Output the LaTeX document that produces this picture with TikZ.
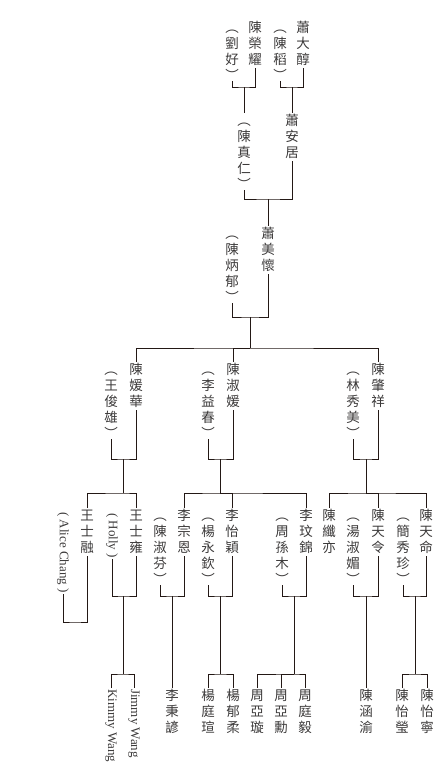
\documentclass[tikz,border=0pt]{standalone}
\usepackage{fontspec}
\setmainfont{Liberation Serif}
\newfontfamily\kincjk{Noto Sans CJK TC}
\definecolor{KinInk}{HTML}{231815}
\definecolor{KinName}{HTML}{3C3A3A}
% one name set as a column, one 16pt cell per character
\def\kinloop#1{\ifx\relax#1\else
  \ifx#1︶\hbox to 16pt{\hss\rule{0pt}{12.6pt}#1\hss}%
  \else\hbox to 16pt{\hss\rule[-3.4pt]{0pt}{16pt}#1\hss}\fi
  \expandafter\kinloop\fi}
\newcommand{\vname}[1]{\vbox{\offinterlineskip\kinloop#1\relax}}
\tikzset{
  kin line/.style={draw=KinInk, line width=.9pt},
  kin name/.style={anchor=north, inner sep=0pt, font=\kincjk\fontsize{13.5}{16}\selectfont, text=KinName},
  kin roman/.style={rotate=-90, anchor=west, inner sep=1pt, font=\fontsize{13}{15}\selectfont, text=KinName},
}
\begin{document}
\begin{tikzpicture}[x=1pt,y=-1pt]
  \useasboundingbox (0,0) rectangle (446,780);

  % first generation
  \node[kin name] (dachun) at (303,20) {\vname{蕭大醇}};
  \node[kin name] (chendao) at (280,20) {\vname{︵陳稻︶}};
  \node[kin name] (rongyao) at (255,20) {\vname{陳榮耀}};
  \node[kin name] (liuhao) at (232,20) {\vname{︵劉好︶}};
  \coordinate (c1) at (292,87);
  \coordinate (c2) at (244,87);
  \draw[kin line] (dachun.south) |- (c1) -| (chendao.south);
  \draw[kin line] (rongyao.south) |- (c2) -| (liuhao.south);

  \node[kin name] (anju) at (292,113) {\vname{蕭安居}};
  \node[kin name] (zhenren) at (244,113) {\vname{︵陳真仁︶}};
  \draw[kin line] (c1) -- (anju.north);
  \draw[kin line] (c2) -- (zhenren.north);
  \coordinate (c3) at (268,199);
  \draw[kin line] (anju.south) |- (c3) -| (zhenren.south);

  \node[kin name] (meihuai) at (268,226) {\vname{蕭美懷}};
  \node[kin name] (bingyu) at (232,226) {\vname{︵陳炳郁︶}};
  \draw[kin line] (c3) -- (meihuai.north);
  \coordinate (c4) at (250,317);
  \draw[kin line] (meihuai.south) |- (c4) -| (bingyu.south);

  % children of 蕭美懷
  \coordinate (s1) at (250,348);
  \node[kin name] (yuanhua) at (136,362) {\vname{陳媛華}};
  \node[kin name] (junxiong) at (111,362) {\vname{︵王俊雄︶}};
  \node[kin name] (shuyuan) at (233,362) {\vname{陳淑媛}};
  \node[kin name] (yichun) at (208,362) {\vname{︵李益春︶}};
  \node[kin name] (zhaoxiang) at (378,362) {\vname{陳肇祥}};
  \node[kin name] (xiumei) at (353,362) {\vname{︵林秀美︶}};
  \draw[kin line] (c4) -- (s1);
  \draw[kin line] (yuanhua.north) |- (s1) -| (zhaoxiang.north);
  \draw[kin line] (s1) -| (shuyuan.north);
  \coordinate (c5) at (123,459);
  \coordinate (c6) at (220,459);
  \coordinate (c7) at (366,459);
  \draw[kin line] (yuanhua.south) |- (c5) -| (junxiong.south);
  \draw[kin line] (shuyuan.south) |- (c6) -| (yichun.south);
  \draw[kin line] (zhaoxiang.south) |- (c7) -| (xiumei.south);

  % grandchildren
  \coordinate (s2) at (123,493);
  \coordinate (s3) at (220,493);
  \coordinate (s4) at (366,493);
  \node[kin name] (shirong) at (87,508) {\vname{王士融}};
  \node[kin roman] (alice) at (63,511) {( Alice Chang )};
  \node[kin name] (shiyong) at (136,508) {\vname{王士雍}};
  \node[kin roman] (holly) at (112,512) {( Holly )};
  \node[kin name] (zongen) at (184,508) {\vname{李宗恩}};
  \node[kin name] (shufen) at (160,508) {\vname{︵陳淑芬︶}};
  \node[kin name] (liyiying) at (232,508) {\vname{李怡穎}};
  \node[kin name] (yongqin) at (208,508) {\vname{︵楊永欽︶}};
  \node[kin name] (wenjin) at (306,508) {\vname{李玟錦}};
  \node[kin name] (sunmu) at (282,508) {\vname{︵周孫木︶}};
  \node[kin name] (xianyi) at (329,508) {\vname{陳纖亦}};
  \node[kin name] (tianling) at (378,508) {\vname{陳天令}};
  \node[kin name] (shumei) at (353,508) {\vname{︵湯淑媚︶}};
  \node[kin name] (tianming) at (426,508) {\vname{陳天命}};
  \node[kin name] (xiuzhen) at (403,508) {\vname{︵簡秀珍︶}};
  \draw[kin line] (c5) -- (s2);
  \draw[kin line] (c6) -- (s3);
  \draw[kin line] (c7) -- (s4);
  \draw[kin line] (shirong.north) |- (s2) -| (shiyong.north);
  \draw[kin line] (zongen.north) |- (s3) -| (wenjin.north);
  \draw[kin line] (s3) -| (liyiying.north);
  \draw[kin line] (xianyi.north) |- (s4) -| (tianming.north);
  \draw[kin line] (s4) -| (tianling.north);

  \coordinate (c8) at (123,596);
  \coordinate (c9) at (172,596);
  \coordinate (c10) at (220,596);
  \coordinate (c11) at (294,596);
  \coordinate (c12) at (366,596);
  \coordinate (c13) at (415,596);
  \coordinate (c14) at (75,622);
  \draw[kin line] (shiyong.south) |- (c8) -| (holly.east);
  \draw[kin line] (zongen.south) |- (c9) -| (shufen.south);
  \draw[kin line] (liyiying.south) |- (c10) -| (yongqin.south);
  \draw[kin line] (wenjin.south) |- (c11) -| (sunmu.south);
  \draw[kin line] (tianling.south) |- (c12) -| (shumei.south);
  \draw[kin line] (tianming.south) |- (c13) -| (xiuzhen.south);
  \draw[kin line] (shirong.south) |- (c14) -| (alice.east);

  % great-grandchildren
  \coordinate (s5) at (123,674);
  \coordinate (s6) at (220,674);
  \coordinate (s7) at (294,674);
  \coordinate (s8) at (415,674);
  \node[kin roman] (kimmy) at (111,688) {Kimmy Wang};
  \node[kin roman] (jimmy) at (134,688) {Jimmy Wang};
  \node[kin name] (bingyan) at (172,688) {\vname{李秉諺}};
  \node[kin name] (tingxuan) at (208,688) {\vname{楊庭瑄}};
  \node[kin name] (yurou) at (233,688) {\vname{楊郁柔}};
  \node[kin name] (yaxuan) at (257,688) {\vname{周亞璇}};
  \node[kin name] (yaxun) at (281,688) {\vname{周亞勳}};
  \node[kin name] (tingyi) at (305,688) {\vname{周庭毅}};
  \node[kin name] (hanyu) at (366,688) {\vname{陳涵渝}};
  \node[kin name] (yiying) at (402,688) {\vname{陳怡瑩}};
  \node[kin name] (yining) at (427,688) {\vname{陳怡寧}};
  \draw[kin line] (c8) -- (s5);
  \draw[kin line] (kimmy.west) |- (s5) -| (jimmy.west);
  \draw[kin line] (c9) -- (bingyan.north);
  \draw[kin line] (c10) -- (s6);
  \draw[kin line] (tingxuan.north) |- (s6) -| (yurou.north);
  \draw[kin line] (c11) -- (s7);
  \draw[kin line] (yaxuan.north) |- (s7) -| (tingyi.north);
  \draw[kin line] (s7) -| (yaxun.north);
  \draw[kin line] (c12) -- (hanyu.north);
  \draw[kin line] (c13) -- (s8);
  \draw[kin line] (yiying.north) |- (s8) -| (yining.north);
\end{tikzpicture}
\end{document}
